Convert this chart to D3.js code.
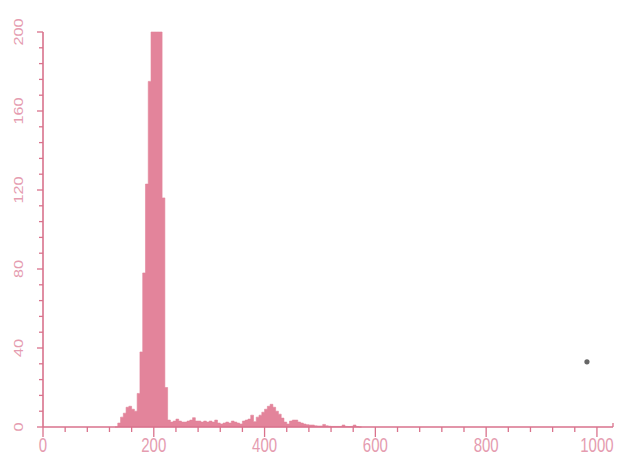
<!DOCTYPE html>
<html>
<head>
<meta charset="utf-8">
<script src="https://cdn.jsdelivr.net/npm/d3@7"></script>
<style>
  html, body { margin: 0; padding: 0; background: #ffffff; }
  svg { display: block; }
</style>
</head>
<body>
<svg id="chart" width="620" height="457"></svg>
<script>
// ---- data ----
const binStart = 130;          // channel of the first bin
const binWidth = 5;            // channel width of each bin
const counts = [
  0, 2, 5, 7, 10, 10.5, 9, 8,            // 130-165
  17, 38, 78, 123, 175,                  // 170-190
  200, 200, 200, 200,                    // 195-210
  116, 20,                               // 215-220
  3.5, 2.5, 3, 4, 3, 2.5, 2.5, 3, 3.5, 4.7, // 225-270
  3, 3, 2.5, 3, 2.5, 3, 2.5, 3.5, 2, 1.5,   // 275-320
  2, 2.5, 2, 3, 2.5, 2, 1.5, 3, 3.5, 4,     // 325-370
  6, 2.7, 5, 6, 7.5, 9, 10.5, 11.5, 10, 8,  // 375-420
  6.5, 4.5, 2.5, 1.5, 3, 3.5, 3.5, 2.5, 2, 1.5, // 425-470
  1.2, 1, 1, 0.6, 0.5, 0.5, 1.3, 0.6, 0.4, 0.3, // 475-520
  0.3, 0.3, 0.3, 1.0, 0.3, 0.2, 0.3, 1.0, 0.2, 0  // 525-570
];
const strayPoints = [[982, 33]];
const xTicks = [0, 200, 400, 600, 800, 1000];
const yTicks = [0, 40, 80, 120, 160, 200];
const xMinorStep = 40;
const yMinorStep = 8;

// ---- layout ----
const svg = d3.select("#chart");
const axisColor = "#d9728c";
const labelColor = "#e59cb0";
const fillColor = "#e3849b";

const x = d3.scaleLinear().domain([0, 1029]).range([43, 613]);
const y = d3.scaleLinear().domain([0, 200]).range([427, 32]);

// histogram as step area
const pts = counts.map((c, i) => ({ x: binStart + i * binWidth, c }));
pts.push({ x: binStart + counts.length * binWidth, c: 0 });

const area = d3.area()
  .curve(d3.curveStepAfter)
  .x(d => x(d.x))
  .y0(y(0))
  .y1(d => y(d.c));

svg.append("path")
  .datum(pts)
  .attr("d", area)
  .attr("fill", fillColor)
  .attr("stroke", fillColor)
  .attr("stroke-width", 0.6);

// ---- x axis ----
const xMinor = d3.range(0, 1001, xMinorStep).filter(v => !xTicks.includes(v));
const gx = svg.append("g").attr("transform", `translate(0,${y(0)})`);
gx.append("line")
  .attr("x1", x(0)).attr("x2", x(1029))
  .attr("stroke", axisColor).attr("stroke-width", 1.6);
gx.selectAll(".xmaj").data(xTicks).join("line")
  .attr("x1", d => x(d)).attr("x2", d => x(d))
  .attr("y1", 0).attr("y2", 10)
  .attr("stroke", axisColor).attr("stroke-width", 1.3);
gx.selectAll(".xmin").data(xMinor).join("line")
  .attr("x1", d => x(d)).attr("x2", d => x(d))
  .attr("y1", 0).attr("y2", 5)
  .attr("stroke", axisColor).attr("stroke-width", 1.3);
gx.append("line")
  .attr("x1", x(1029)).attr("x2", x(1029))
  .attr("y1", 0).attr("y2", -4)
  .attr("stroke", axisColor).attr("stroke-width", 1.3);
gx.selectAll(".xlab").data(xTicks).join("text")
  .attr("transform", d => `translate(${x(d)},25) scale(1,1.3)`)
  .attr("text-anchor", "middle")
  .attr("font-family", "Liberation Sans, Arial, sans-serif")
  .attr("font-size", 15)
  .attr("fill", labelColor)
  .text(d => d);

// ---- y axis ----
const yMinor = d3.range(0, 201, yMinorStep).filter(v => !yTicks.includes(v));
const gy = svg.append("g").attr("transform", `translate(${x(0)},0)`);
gy.append("line")
  .attr("y1", y(0)).attr("y2", y(200))
  .attr("stroke", axisColor).attr("stroke-width", 1.6);
gy.selectAll(".ymaj").data(yTicks).join("line")
  .attr("x1", -6).attr("x2", 0)
  .attr("y1", d => y(d)).attr("y2", d => y(d))
  .attr("stroke", axisColor).attr("stroke-width", 1.3);
gy.selectAll(".ymin").data(yMinor).join("line")
  .attr("x1", -4).attr("x2", 0)
  .attr("y1", d => y(d)).attr("y2", d => y(d))
  .attr("stroke", axisColor).attr("stroke-width", 1.3);
gy.selectAll(".ylab").data(yTicks).join("text")
  .attr("transform", d => `translate(-24,${y(d)}) rotate(-90) scale(1.3,1)`)
  .attr("text-anchor", "middle")
  .attr("dy", "0.35em")
  .attr("font-family", "Liberation Sans, Arial, sans-serif")
  .attr("font-size", 12.5)
  .attr("fill", labelColor)
  .text(d => d);

// stray dot
svg.selectAll(".stray").data(strayPoints).join("circle")
  .attr("cx", d => x(d[0])).attr("cy", d => y(d[1]))
  .attr("r", 2.6).attr("fill", "#666");
</script>
</body>
</html>
